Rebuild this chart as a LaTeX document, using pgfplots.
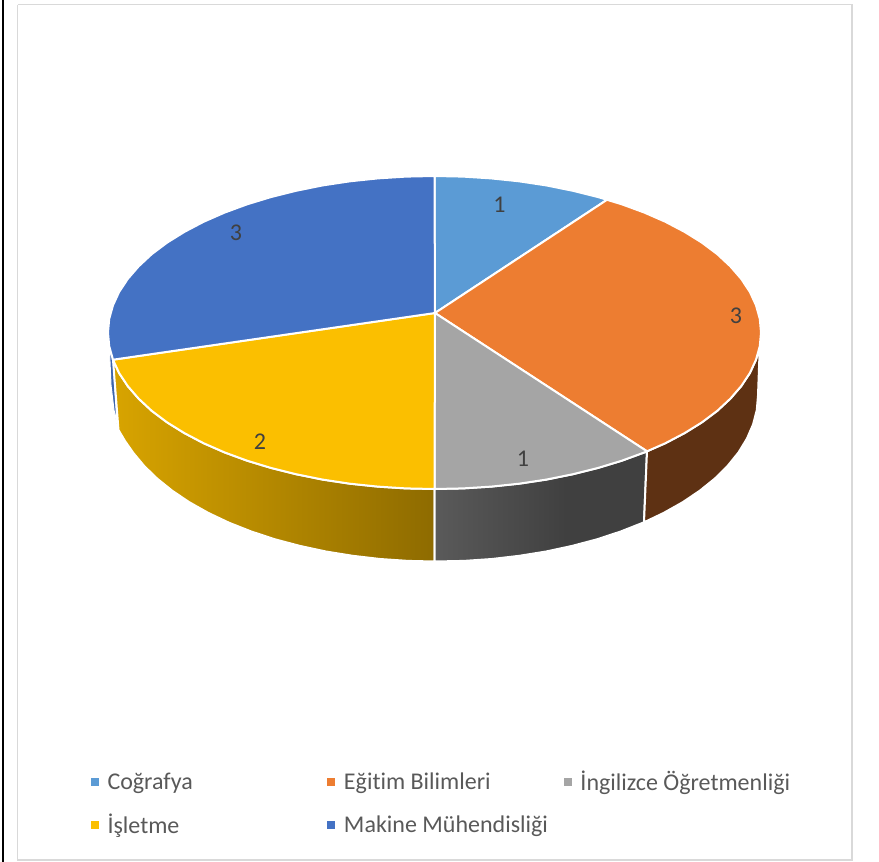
\documentclass[border=0pt]{standalone}
\usepackage{fontspec}
\setmainfont{Carlito}[Ligatures=NoCommon]
\usepackage{pgfplots}
\pgfplotsset{compat=1.18}
\definecolor{cA}{HTML}{5B9BD5}
\definecolor{cB}{HTML}{ED7D31}
\definecolor{cC}{HTML}{A5A5A5}
\definecolor{cD}{HTML}{FBBF00}
\definecolor{cE}{HTML}{4472C4}
\definecolor{sB}{HTML}{5E3113}
\definecolor{frame}{HTML}{D9D9D9}
\definecolor{lt}{HTML}{595959}
\definecolor{dl}{HTML}{404040}
\definecolor{gL}{RGB}{90,90,90}
\definecolor{gR}{RGB}{64,64,64}
\pgfdeclarehorizontalshading{graySide}{100bp}{color(0bp)=(gL); color(25bp)=(gL); color(56bp)=(gR); color(100bp)=(gR)}
\begin{document}
\begin{tikzpicture}
\path[use as bounding box] (0,0) rectangle (879pt,862pt);
\begin{axis}[
  at={(0,0)}, anchor=south west,
  scale only axis, width=879pt, height=862pt,
  xmin=0, xmax=879, ymin=0, ymax=862, y dir=reverse,
  axis lines=none, clip=true,
  legend columns=3,
  legend cell align=left,
  legend image code/.code={\fill[#1,draw=none] (0pt,-4pt) rectangle (8pt,4pt);},
  legend style={at={(axis cs:91,771)}, anchor=north west, draw=none, fill=none,
    font=\fontsize{24}{24}\selectfont\color{lt}, inner sep=0pt, outer sep=0pt,
    row sep=22pt,
    /tikz/every odd column/.append style={column sep=8.5pt},
    nodes={inner sep=0pt, outer sep=0pt}},
]
% legend
\addlegendimage{fill=cA}
\addlegendentry{\makebox[220pt][l]{Coğrafya\strut}}
\addlegendimage{fill=cB}
\addlegendentry{\makebox[220pt][l]{Eğitim Bilimleri\strut}}
\addlegendimage{fill=cC}
\addlegendentry{\makebox[215pt][l]{İngilizce Öğretmenliği\strut}}
\addlegendimage{fill=cD}
\addlegendentry{\makebox[220pt][l]{İşletme\strut}}
\addlegendimage{fill=cE}
\addlegendentry{\makebox[220pt][l]{Makine Mühendisliği\strut}}
% frame
\addplot[frame, line width=1.5pt] coordinates {(17.5,4.5)(852,4.5)(852,860)(17.5,860)(17.5,4.5)};
\addplot[black, line width=2.5pt] coordinates {(3,0)(3,862)};
% side faces
\addplot[fill=cE!88!black, draw=white, line width=1pt] coordinates {(109.5,350)(113,360)(117,424)(114,410)(111,385)(109.5,350)};
\addplot[draw=white, line width=2pt, left color={rgb,255:red,216;green,164;blue,0}, right color={rgb,255:red,142;green,107;blue,0}] coordinates {
 (434.5,489)(406,488.4)(377.8,486.6)(350,483.7)(322.8,479.6)(296.5,474.3)(271.2,468)(247.2,460.7)(224.6,452.4)(203.6,443.2)(184.4,433.1)(167,422.3)(151.7,410.8)(138.6,398.6)(127.7,386)(119.1,373)(113,359.7)
 (118.5,430)(125,441)(133.4,453)(144.2,466)(157.1,478.5)(172.2,490.7)(189.3,502.2)(208.3,512.9)(229,522.7)(251.3,531.5)(275,539.3)(299.9,545.9)(325.9,551.5)(352.7,555.8)(380.1,559)(407.9,560.9)(434.5,561.5)(434.5,489)};
\addplot[draw=white, line width=2pt, shade, shading=graySide] coordinates {
 (434.5,489)(463,488.4)(491.2,486.6)(519,483.7)(546.2,479.6)(572.5,474.3)(597.8,468)(621.8,460.7)(644.4,452.4)(647,451.3)
 (644,522.3)(620.7,531.5)(597,539.3)(572.1,545.9)(546.1,551.5)(519.3,555.8)(491.9,559)(464.1,560.9)(434.5,561.5)(434.5,489)};
\addplot[fill=sB, draw=white, line width=2pt] coordinates {
 (647,451.3)(665.4,443.2)(684.6,433.1)(702,422.3)(717.3,410.8)(730.4,398.6)(741.3,386)(749.9,373)(756,359.7)(759.8,346.1)
 (758,395.5)(756.8,410)(753.1,424.3)(747,438.5)(738.6,452.3)(727.8,465.7)(714.9,478.5)(699.8,490.7)(682.7,502.2)(663.7,512.9)(644,522.3)(647,451.3)};
% top faces
\addplot[fill=cA, draw=white, line width=2pt] coordinates {
 (435,313)(434.5,176)(463,176.6)(491.2,178.4)(519,181.3)(546.2,185.4)(572.5,190.7)(597.8,197)(607,199.8)(435,313)};
\addplot[fill=cB, draw=white, line width=2pt] coordinates {
 (435,313)(607,199.8)(621.8,204.3)(644.4,212.6)(665.4,221.8)(684.6,231.9)(702,242.7)(717.3,254.2)(730.4,266.4)(741.3,279)(749.9,292)(756,305.3)(759.8,318.9)(761,332.5)(759.8,346.1)(756,359.7)(749.9,373)(741.3,386)(730.4,398.6)(717.3,410.8)(702,422.3)(684.6,433.1)(665.4,443.2)(647,451.3)(435,313)};
\addplot[fill=cC, draw=white, line width=2pt] coordinates {
 (435,313)(647,451.3)(644.4,452.4)(621.8,460.7)(597.8,468)(572.5,474.3)(546.2,479.6)(519,483.7)(491.2,486.6)(463,488.4)(434.5,489)(435,313)};
\addplot[fill=cD, draw=white, line width=2pt] coordinates {
 (435,313)(434.5,489)(406,488.4)(377.8,486.6)(350,483.7)(322.8,479.6)(296.5,474.3)(271.2,468)(247.2,460.7)(224.6,452.4)(203.6,443.2)(184.4,433.1)(167,422.3)(151.7,410.8)(138.6,398.6)(127.7,386)(119.1,373)(113,359.7)(435,313)};
\addplot[fill=cE, draw=white, line width=2pt] coordinates {
 (435,313)(113,359.7)(109.2,346.1)(108,332.5)(109.2,318.9)(113,305.3)(119.1,292)(127.7,279)(138.6,266.4)(151.7,254.2)(167,242.7)(184.4,231.9)(203.6,221.8)(224.6,212.6)(247.2,204.3)(271.2,197)(296.5,190.7)(322.8,185.4)(350,181.3)(377.8,178.4)(406,176.6)(434.5,176)(435,313)};
% data labels
\node[text=dl, font=\fontsize{24}{24}\selectfont] at (axis cs:499.5,205) {1};
\node[text=dl, font=\fontsize{24}{24}\selectfont] at (axis cs:736,316) {3};
\node[text=dl, font=\fontsize{24}{24}\selectfont] at (axis cs:523,459) {1};
\node[text=dl, font=\fontsize{24}{24}\selectfont] at (axis cs:260,442) {2};
\node[text=dl, font=\fontsize{24}{24}\selectfont] at (axis cs:236,233) {3};
\end{axis}
\end{tikzpicture}
\end{document}
